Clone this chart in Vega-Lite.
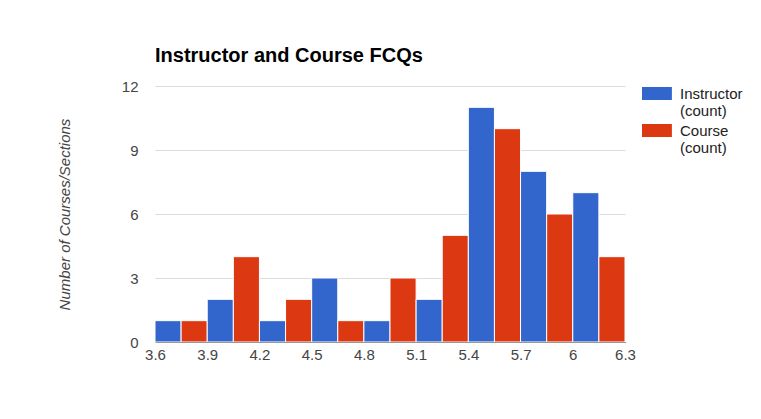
{
  "$schema": "https://vega.github.io/schema/vega-lite/v6.json",
  "width": 470,
  "height": 256,
  "autosize": {"type": "none"},
  "padding": {"left": 155, "top": 86, "right": 136, "bottom": 77},
  "background": "white",
  "title": {
    "text": "Instructor and Course FCQs",
    "anchor": "start",
    "frame": "group",
    "font": "Liberation Sans",
    "fontSize": 20,
    "fontWeight": "bold",
    "color": "#000000",
    "offset": 13
  },
  "data": {
    "values": [
      {"series": "Instructor", "x0": 3.6, "x1": 3.75, "count": 1},
      {"series": "Course", "x0": 3.75, "x1": 3.9, "count": 1},
      {"series": "Instructor", "x0": 3.9, "x1": 4.05, "count": 2},
      {"series": "Course", "x0": 4.05, "x1": 4.2, "count": 4},
      {"series": "Instructor", "x0": 4.2, "x1": 4.35, "count": 1},
      {"series": "Course", "x0": 4.35, "x1": 4.5, "count": 2},
      {"series": "Instructor", "x0": 4.5, "x1": 4.65, "count": 3},
      {"series": "Course", "x0": 4.65, "x1": 4.8, "count": 1},
      {"series": "Instructor", "x0": 4.8, "x1": 4.95, "count": 1},
      {"series": "Course", "x0": 4.95, "x1": 5.1, "count": 3},
      {"series": "Instructor", "x0": 5.1, "x1": 5.25, "count": 2},
      {"series": "Course", "x0": 5.25, "x1": 5.4, "count": 5},
      {"series": "Instructor", "x0": 5.4, "x1": 5.55, "count": 11},
      {"series": "Course", "x0": 5.55, "x1": 5.7, "count": 10},
      {"series": "Instructor", "x0": 5.7, "x1": 5.85, "count": 8},
      {"series": "Course", "x0": 5.85, "x1": 6.0, "count": 6},
      {"series": "Instructor", "x0": 6.0, "x1": 6.15, "count": 7},
      {"series": "Course", "x0": 6.15, "x1": 6.3, "count": 4}
    ]
  },
  "mark": {"type": "rect", "stroke": "white", "strokeWidth": 1},
  "encoding": {
    "x": {
      "field": "x0",
      "type": "quantitative",
      "scale": {"domain": [3.6, 6.3], "nice": false, "zero": false},
      "axis": {
        "values": [3.6, 3.9, 4.2, 4.5, 4.8, 5.1, 5.4, 5.7, 6, 6.3],
        "format": ".1~f",
        "title": null,
        "grid": false,
        "ticks": false,
        "domainColor": "#333333",
        "domainWidth": 1,
        "labelFont": "Liberation Sans",
        "labelFontSize": 15,
        "labelColor": "#444444",
        "labelPadding": 5,
        "labelFlush": false
      }
    },
    "x2": {"field": "x1"},
    "y": {
      "field": "count",
      "type": "quantitative",
      "scale": {"domain": [0, 12], "nice": false},
      "axis": {
        "values": [0, 3, 6, 9, 12],
        "title": "Number of Courses/Sections",
        "titleFont": "Liberation Sans",
        "titleFontSize": 15,
        "titleFontWeight": "normal",
        "titleFontStyle": "italic",
        "titleColor": "#444444",
        "titlePadding": 49,
        "domain": false,
        "ticks": false,
        "gridColor": "#dddddd",
        "labelFont": "Liberation Sans",
        "labelFontSize": 15,
        "labelColor": "#444444",
        "labelPadding": 17
      }
    },
    "y2": {"datum": 0},
    "color": {
      "field": "series",
      "type": "nominal",
      "scale": {"domain": ["Instructor", "Course"], "range": ["#3366cc", "#dc3912"]},
      "legend": {
        "orient": "none",
        "legendX": 486,
        "legendY": 0,
        "title": null,
        "symbolType": "M-1,-1H3.6V1H-1Z",
        "symbolSize": 169,
        "symbolStrokeWidth": 0,
        "symbolOpacity": 1,
        "labelExpr": "[datum.label, '(count)']",
        "labelFont": "Liberation Sans",
        "labelFontSize": 15,
        "labelColor": "#222222",
        "labelLineHeight": 18,
        "labelOffset": 24,
        "rowPadding": 4
      }
    }
  },
  "config": {
    "view": {"stroke": null}
  }
}
